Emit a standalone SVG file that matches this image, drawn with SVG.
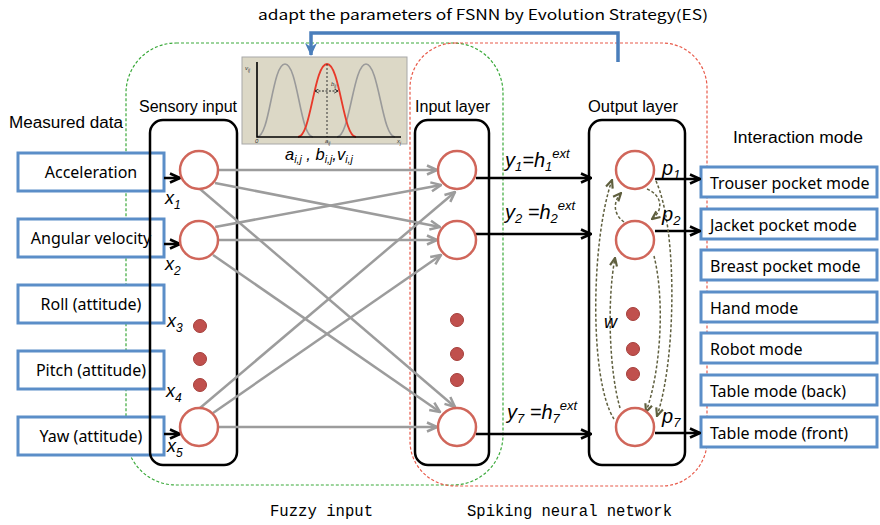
<svg xmlns="http://www.w3.org/2000/svg" width="880" height="525" viewBox="0 0 880 525">
<defs>
<style>
.lbl{font-family:"Liberation Sans",Arial,sans-serif;font-size:16px;fill:#000}
.box{fill:#fff;stroke:#5b8ec8;stroke-width:3}
.btxt{font-family:"Noto Sans",sans-serif;font-size:16px;fill:#000}
.layer{fill:none;stroke:#000;stroke-width:2.5}
.neuron{fill:#fff;stroke:#d0665a;stroke-width:2.5}
.dot{fill:#c0504d;stroke:#a53f3b;stroke-width:1}
.gray{stroke:#9c9c9c;stroke-width:2.5;fill:none;marker-end:url(#ag)}
.blk{stroke:#000;stroke-width:2.5;fill:none;marker-end:url(#ab)}
.rec{stroke:#5f5f3e;stroke-width:1.5;stroke-dasharray:3 2;fill:none;marker-end:url(#ao)}
.it{font-family:"Liberation Sans",Arial,sans-serif;font-style:italic;fill:#000}
.mono{font-family:"Liberation Mono",monospace;font-size:16px;fill:#000}
.tiny{font-family:"Liberation Sans",Arial,sans-serif;font-size:6px;font-style:italic;fill:#333}
</style>
<marker id="ag" viewBox="0 0 12 12" refX="11" refY="6" markerWidth="12" markerHeight="12" markerUnits="userSpaceOnUse" orient="auto"><path d="M1,1.5 L11,6 L1,10.5" fill="none" stroke="#9c9c9c" stroke-width="2.5"/></marker>
<marker id="ab" viewBox="0 0 12 12" refX="11" refY="6" markerWidth="12" markerHeight="12" markerUnits="userSpaceOnUse" orient="auto"><path d="M1,1.5 L11,6 L1,10.5" fill="none" stroke="#000" stroke-width="2.5"/></marker>
<marker id="ao" viewBox="0 0 10 10" refX="9" refY="5" markerWidth="10" markerHeight="10" markerUnits="userSpaceOnUse" orient="auto"><path d="M1,1.5 L9,5 L1,8.5" fill="none" stroke="#5f5f3e" stroke-width="2.2"/></marker>
<marker id="abl" viewBox="0 0 14 14" refX="12" refY="7" markerWidth="14" markerHeight="14" markerUnits="userSpaceOnUse" orient="auto"><path d="M0,1 L13,7 L0,13 L4,7 z" fill="#4a7ebb"/></marker>
<marker id="tk" viewBox="0 0 6 6" refX="5" refY="3" markerWidth="5" markerHeight="5" markerUnits="userSpaceOnUse" orient="auto-start-reverse"><path d="M0.5,0.5 L5,3 L0.5,5.5" fill="none" stroke="#222" stroke-width="1"/></marker>
</defs>
<rect width="880" height="525" fill="#fff"/>

<!-- containers -->
<g id="fuzzy-region">
<rect x="126" y="43" width="377" height="442" rx="50" ry="50" fill="none" stroke="#3aa93a" stroke-width="1.2" stroke-dasharray="3 2"/>
</g>
<g id="snn-region">
<rect x="410" y="43" width="297" height="443" rx="45" ry="45" fill="none" stroke="#e85a4a" stroke-width="1.2" stroke-dasharray="3 2"/>
</g>

<text x="258" y="20" font-family="'Noto Sans CJK JP','Noto Sans',sans-serif" font-size="14" textLength="450" lengthAdjust="spacingAndGlyphs">adapt the parameters of FSNN by Evolution Strategy(ES)</text>

<!-- plot -->
<g id="membership-plot">
<rect x="242" y="57" width="165" height="87" fill="#dcd8c6" stroke="#a8a8a8" stroke-width="1"/>
<path d="M257,137 C270,137 272,64 285,64 C298,64 300,137 313,137" fill="none" stroke="#9a9a9a" stroke-width="1.6"/>
<path d="M337,137 C350,137 353,64 366,64 C379,64 382,137 395,137" fill="none" stroke="#9a9a9a" stroke-width="1.6"/>
<path d="M298,137 C311,137 314,64 327,64 C340,64 343,137 356,137" fill="none" stroke="#e8392a" stroke-width="1.8"/>
<path d="M327,64 V137" stroke="#333" stroke-width="1" stroke-dasharray="2 2"/>
<path d="M315,91 H338" stroke="#222" stroke-width="1" stroke-dasharray="2 1.5" marker-start="url(#tk)" marker-end="url(#tk)"/>
<path d="M257,62 V137 H401" fill="none" stroke="#000" stroke-width="1.6"/>
<text class="tiny" x="245" y="70">v<tspan font-size="4.5" dy="1.5">ij</tspan></text>
<text class="tiny" x="255" y="143">0</text>
<text class="tiny" x="325" y="143">a<tspan font-size="4.5" dy="1.5">ij</tspan></text>
<text class="tiny" x="397" y="143">x<tspan font-size="4.5" dy="1.5">j</tspan></text>
<text class="tiny" x="331" y="86">b<tspan font-size="4.5" dy="1.5">ij</tspan></text>
<text class="it" x="285" y="160" font-size="16.5">a<tspan font-size="10.5" dy="3">i,j</tspan><tspan dy="-3"> , b</tspan><tspan font-size="10.5" dy="3">i,j</tspan><tspan dy="-3">,v</tspan><tspan font-size="10.5" dy="3">i,j</tspan></text>
</g>

<!-- feedback arrow -->
<g id="es-feedback">
<path d="M618,62 V33 H311 V55" fill="none" stroke="#4a7ebb" stroke-width="3.5" marker-end="url(#abl)"/>
</g>

<!-- section labels -->
<text class="lbl" x="9" y="128" textLength="114" lengthAdjust="spacingAndGlyphs">Measured data</text>
<text class="lbl" x="139" y="112" textLength="98" lengthAdjust="spacingAndGlyphs">Sensory input</text>
<text class="lbl" x="415" y="112" textLength="75" lengthAdjust="spacingAndGlyphs">Input layer</text>
<text class="lbl" x="588" y="112" textLength="90" lengthAdjust="spacingAndGlyphs">Output layer</text>
<text class="lbl" x="733" y="143" textLength="130" lengthAdjust="spacingAndGlyphs">Interaction mode</text>
<text class="mono" x="270" y="516" textLength="103" lengthAdjust="spacingAndGlyphs">Fuzzy input</text>
<text class="mono" x="467" y="516" textLength="205" lengthAdjust="spacingAndGlyphs">Spiking neural network</text>

<!-- measured data boxes -->
<g id="m-acc"><rect class="box" x="18" y="153" width="146" height="38"/><text class="btxt" x="91" y="178" text-anchor="middle">Acceleration</text></g>
<g id="m-ang"><rect class="box" x="18" y="219" width="146" height="38"/><text class="btxt" x="91" y="244" text-anchor="middle">Angular velocity</text></g>
<g id="m-roll"><rect class="box" x="18" y="285" width="146" height="38"/><text class="btxt" x="91" y="310" text-anchor="middle">Roll (attitude)</text></g>
<g id="m-pitch"><rect class="box" x="18" y="351" width="146" height="38"/><text class="btxt" x="91" y="376" text-anchor="middle">Pitch (attitude)</text></g>
<g id="m-yaw"><rect class="box" x="18" y="417" width="146" height="38"/><text class="btxt" x="91" y="442" text-anchor="middle">Yaw (attitude)</text></g>

<!-- layer boxes -->
<g id="sensory-layer"><rect class="layer" x="150" y="120" width="87" height="345" rx="13"/></g>
<g id="input-layer"><rect class="layer" x="415" y="120" width="74" height="345" rx="13"/></g>
<g id="output-layer"><rect class="layer" x="589" y="120" width="96" height="345" rx="13"/></g>

<!-- interaction mode boxes -->
<g id="o-trouser"><rect class="box" x="701" y="167" width="176" height="30"/><text class="btxt" x="710" y="189">Trouser pocket mode</text></g>
<g id="o-jacket"><rect class="box" x="701" y="209" width="176" height="30"/><text class="btxt" x="710" y="231">Jacket pocket mode</text></g>
<g id="o-breast"><rect class="box" x="701" y="250" width="176" height="30"/><text class="btxt" x="710" y="272">Breast pocket mode</text></g>
<g id="o-hand"><rect class="box" x="701" y="292" width="176" height="30"/><text class="btxt" x="710" y="314">Hand mode</text></g>
<g id="o-robot"><rect class="box" x="701" y="333" width="176" height="30"/><text class="btxt" x="710" y="355">Robot mode</text></g>
<g id="o-tback"><rect class="box" x="701" y="375" width="176" height="30"/><text class="btxt" x="710" y="397">Table mode (back)</text></g>
<g id="o-tfront"><rect class="box" x="701" y="417" width="176" height="30"/><text class="btxt" x="710" y="439">Table mode (front)</text></g>

<!-- connectors -->
<g id="connectors">
<path class="blk" d="M164,178 H180"/>
<path class="blk" d="M164,244 H180"/>
<path class="blk" d="M164,434 H180"/>
<path class="gray" d="M219,170 L437,170"/>
<path class="gray" d="M215,183 L440,227"/>
<path class="gray" d="M200,189 L455,407"/>
<path class="gray" d="M215,227 L441,185"/>
<path class="gray" d="M219,240 L437,240"/>
<path class="gray" d="M213,255 L440,412"/>
<path class="gray" d="M200,408 L455,192"/>
<path class="gray" d="M213,413 L441,255"/>
<path class="gray" d="M219,427 L437,427"/>
<path class="blk" d="M476,178 H591"/>
<path class="blk" d="M476,234 H591"/>
<path class="blk" d="M476,434 H591"/>
<path class="blk" d="M655,179 H700"/>
<path class="blk" d="M655,231 H700"/>
<path class="blk" d="M655,433 H700"/>
<path class="rec" d="M647,189 C662,195 664,210 652,219"/>
<path class="rec" d="M624,222 C613,214 613,202 621,193"/>
<path class="rec" d="M656,181 C678,230 676,360 657,416"/>
<path class="rec" d="M654,256 C665,300 661,370 646,412"/>
<path class="rec" d="M614,419 C589,380 591,240 612,180"/>
<path class="rec" d="M620,408 C609,370 607,300 615,258"/>
</g>

<!-- neurons -->
<g id="s1"><circle class="neuron" cx="199" cy="170" r="19"/></g>
<g id="s2"><circle class="neuron" cx="199" cy="240" r="19"/></g>
<g id="s-dots"><circle class="dot" cx="200" cy="326" r="6.5"/><circle class="dot" cx="200" cy="359" r="6.5"/><circle class="dot" cx="200" cy="385" r="6.5"/></g>
<g id="s5"><circle class="neuron" cx="199" cy="427" r="19"/></g>
<g id="i1"><circle class="neuron" cx="457" cy="170" r="19"/></g>
<g id="i2"><circle class="neuron" cx="457" cy="240" r="19"/></g>
<g id="i-dots"><circle class="dot" cx="457" cy="320" r="6.5"/><circle class="dot" cx="457" cy="354" r="6.5"/><circle class="dot" cx="457" cy="380" r="6.5"/></g>
<g id="i7"><circle class="neuron" cx="457" cy="427" r="19"/></g>
<g id="n1"><circle class="neuron" cx="635" cy="170" r="19"/></g>
<g id="n2"><circle class="neuron" cx="635" cy="240" r="19"/></g>
<g id="n-dots"><circle class="dot" cx="633" cy="314" r="6.5"/><circle class="dot" cx="633" cy="349" r="6.5"/><circle class="dot" cx="633" cy="374" r="6.5"/></g>
<g id="n7"><circle class="neuron" cx="635" cy="427" r="19"/></g>

<!-- variable labels -->
<text class="it" x="165" y="204" font-size="18">x<tspan font-size="12" dy="5">1</tspan></text>
<text class="it" x="165" y="270" font-size="18">x<tspan font-size="12" dy="5">2</tspan></text>
<text class="it" x="167" y="327" font-size="18">x<tspan font-size="12" dy="5">3</tspan></text>
<text class="it" x="166" y="397" font-size="18">x<tspan font-size="12" dy="5">4</tspan></text>
<text class="it" x="167" y="452" font-size="18">x<tspan font-size="12" dy="5">5</tspan></text>
<text class="it" x="505" y="167" font-size="20">y<tspan font-size="13" dy="4">1</tspan><tspan dy="-4">=h</tspan><tspan font-size="13" dy="4">1</tspan><tspan font-size="13" dy="-13">ext</tspan></text>
<text class="it" x="505" y="219" font-size="20">y<tspan font-size="13" dy="4">2</tspan><tspan dy="-4"> =h</tspan><tspan font-size="13" dy="4">2</tspan><tspan font-size="13" dy="-13">ext</tspan></text>
<text class="it" x="507" y="419" font-size="20">y<tspan font-size="13" dy="4">7</tspan><tspan dy="-4"> =h</tspan><tspan font-size="13" dy="4">7</tspan><tspan font-size="13" dy="-13">ext</tspan></text>
<text class="it" x="662" y="175" font-size="20">p<tspan font-size="13" dy="4">1</tspan></text>
<text class="it" x="662" y="221" font-size="20">p<tspan font-size="13" dy="4">2</tspan></text>
<text class="it" x="662" y="423" font-size="20">p<tspan font-size="13" dy="4">7</tspan></text>
<text class="it" x="604" y="328" font-size="18">w</text>
</svg>
